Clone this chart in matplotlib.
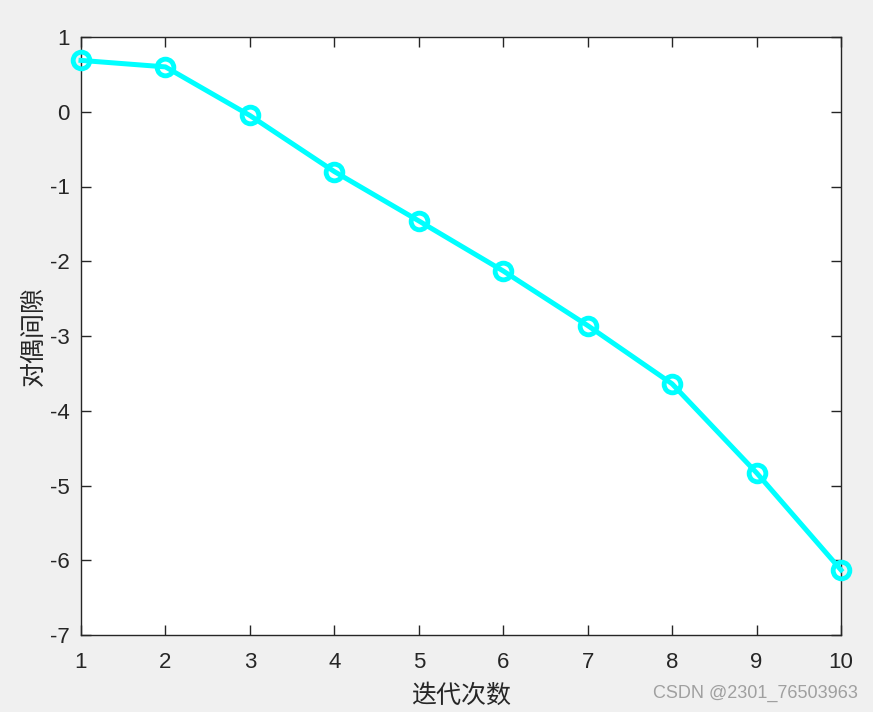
import matplotlib
matplotlib.use("Agg")
import matplotlib.pyplot as plt

iterations = [1, 2, 3, 4, 5, 6, 7, 8, 9, 10]
dual_gap = [0.687, 0.60, -0.05, -0.80, -1.46, -2.13, -2.86, -3.64, -4.83, -6.13]
xticks = [1, 2, 3, 4, 5, 6, 7, 8, 9, 10]
yticks = [1, 0, -1, -2, -3, -4, -5, -6, -7]

plt.rcParams['font.family'] = ['Liberation Sans', 'Noto Sans CJK SC', 'DejaVu Sans']
plt.rcParams['axes.unicode_minus'] = False

fig = plt.figure(figsize=(8.73, 7.12), dpi=100, facecolor='#f0f0f0')
ax = fig.add_axes([81/873, 1-635/712, (841-81)/873, (635-37)/712])
ax.set_facecolor('white')
ax.plot(iterations, dual_gap, color='#00ffff', lw=3.6, marker='o', ms=12,
        mfc='none', mec='#00ffff', mew=3.5, clip_on=False, zorder=3)
ax.set_xlim(1, 10)
ax.set_ylim(-7, 1)
ax.set_xticks(xticks)
ax.set_yticks(yticks)
ax.tick_params(direction='in', length=7, width=1, colors='#262626', labelsize=16,
               top=True, right=True)
ax.tick_params(axis='x', pad=12)
ax.tick_params(axis='y', pad=8)
for s in ax.spines.values():
    s.set_color('#262626')
    s.set_linewidth(1)
ax.set_xlabel('迭代次数', fontsize=18, color='#262626',
              family=['Noto Sans CJK SC', 'DejaVu Sans'], labelpad=7)
ax.set_ylabel('对偶间隙', fontsize=18, color='#262626',
              family=['Noto Sans CJK SC', 'DejaVu Sans'], labelpad=2)
fig.text(858/873, 1-693/712, 'CSDN @2301_76503963', ha='right', va='center',
         fontsize=13, color='#a0a0a0')
fig.savefig('out.png', dpi=100, facecolor=fig.get_facecolor())
